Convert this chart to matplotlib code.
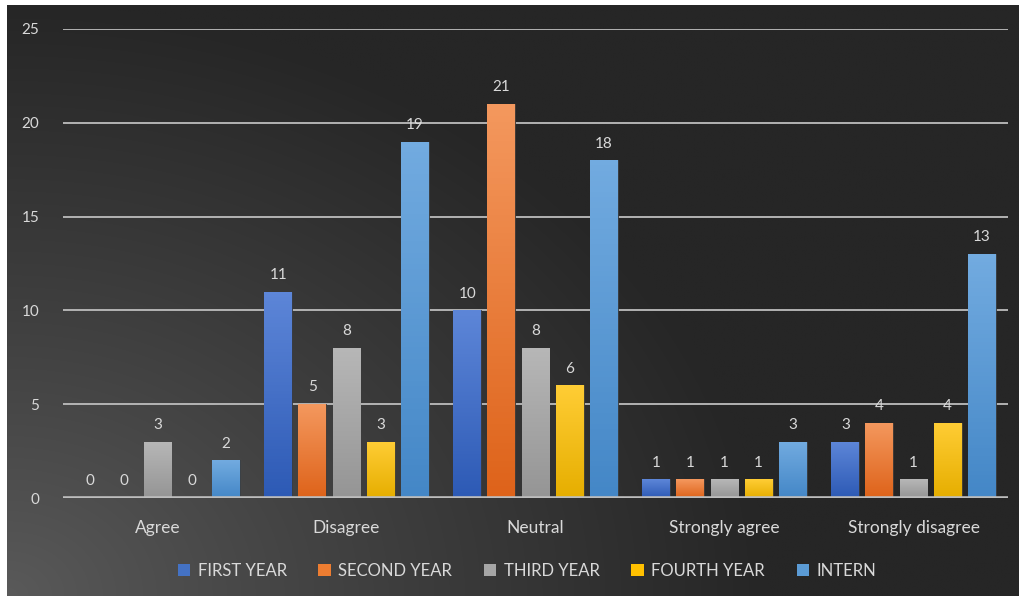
"""Grouped bar chart of responses by year of study, dark Excel-style theme."""

import matplotlib

matplotlib.use("Agg")

import matplotlib.pyplot as plt
import numpy as np
from matplotlib.colors import to_rgb
from matplotlib.patches import Patch

categories = ["Agree", "Disagree", "Neutral", "Strongly agree", "Strongly disagree"]
series_names = ["FIRST YEAR", "SECOND YEAR", "THIRD YEAR", "FOURTH YEAR", "INTERN"]
first_year = [0, 11, 10, 1, 3]
second_year = [0, 5, 21, 1, 4]
third_year = [3, 8, 8, 1, 1]
fourth_year = [0, 3, 6, 1, 4]
intern = [2, 19, 18, 3, 13]
y_ticks = [0, 5, 10, 15, 20, 25]

# (legend colour, gradient top, gradient bottom)
palette = [
    ("#4472C4", "#5d86d8", "#2d5ab5"),
    ("#ED7D31", "#f4985e", "#de631a"),
    ("#A5A5A5", "#b7b7b7", "#959595"),
    ("#FFC000", "#ffcd35", "#e6ae00"),
    ("#5B9BD5", "#72abe0", "#4487c7"),
]

plt.rcParams["font.family"] = ["Lato", "DejaVu Sans"]
text_color = "#d9d9d9"
grid_color = "#bdbdbd"

W, H, DPI = 1019, 596, 100
fig = plt.figure(figsize=(W / DPI, H / DPI), dpi=DPI, facecolor="white")

# dark panel with radial gradient from lower-left
bg = fig.add_axes([7 / W, 0, 1 - 7 / W, (H - 5) / H], zorder=-5)
bg.set_axis_off()
u = np.linspace(0, 1, 400)[None, :]
v = np.linspace(1, 0, 300)[:, None]
t = np.clip(np.sqrt((u / 0.75) ** 2 + (v / 1.0) ** 2), 0, 1) ** 0.9
light = np.array(to_rgb("#5a5a5a"))
dark = np.array(to_rgb("#262626"))
img = light * (1 - t[..., None]) + dark * t[..., None]
bg.imshow(img, aspect="auto", extent=(0, 1, 0, 1), interpolation="bilinear")
bg.set_xlim(0, 1)
bg.set_ylim(0, 1)

ax = fig.add_axes([63 / W, (H - 498) / H, (1008 - 63) / W, (498 - 29) / H])
ax.set_facecolor("none")

values = [first_year, second_year, third_year, fourth_year, intern]
x = np.arange(len(categories))
pitch = 0.18
width = 0.148
ramp = np.linspace(0, 1, 64)[:, None]

for i, (vals, (_, top, bottom)) in enumerate(zip(values, palette)):
    xs = x + (i - 2) * pitch
    bars = ax.bar(xs, vals, width, color=bottom, edgecolor="#3a3a3a",
                  linewidth=0.6, zorder=3)
    top_rgb = np.array(to_rgb(top))
    bot_rgb = np.array(to_rgb(bottom))
    grad = top_rgb * (1 - ramp[..., None]) + bot_rgb * ramp[..., None]
    for bar, val in zip(bars, vals):
        if val > 0:
            im = ax.imshow(grad, aspect="auto", zorder=3.5,
                           extent=(bar.get_x(), bar.get_x() + width, 0, val))
            im.set_clip_path(bar)
        ax.annotate(str(val), (bar.get_x() + width / 2, val), xytext=(0, 7),
                    textcoords="offset points", ha="center", va="bottom",
                    color=text_color, fontsize=11, zorder=5)

ax.set_xlim(-0.5, len(categories) - 0.5)
ax.set_ylim(0, 25)
ax.set_yticks(y_ticks)
ax.set_xticks(x)
ax.set_xticklabels(categories)
ax.tick_params(axis="both", length=0, colors=text_color)
ax.tick_params(axis="x", labelsize=12.5, pad=16)
ax.tick_params(axis="y", labelsize=11, pad=17)
for lab in ax.get_yticklabels():
    lab.set_horizontalalignment("right")
for spine in ax.spines.values():
    spine.set_visible(False)
for yt in y_ticks[1:]:
    ax.axhline(yt, color=grid_color, linewidth=1.3, zorder=1)
ax.axhline(0, color=grid_color, linewidth=2.6, zorder=4)

handles = [Patch(facecolor=c[0], edgecolor="none") for c in palette]
fig.legend(handles, series_names, loc="center", bbox_to_anchor=(527 / W, 25 / H),
           ncol=5, frameon=False, fontsize=12, labelcolor=text_color,
           handlelength=0.75, handleheight=0.75, handletextpad=0.45,
           columnspacing=1.9)

fig.savefig("out.png", dpi=DPI, facecolor="white")
plt.close(fig)
